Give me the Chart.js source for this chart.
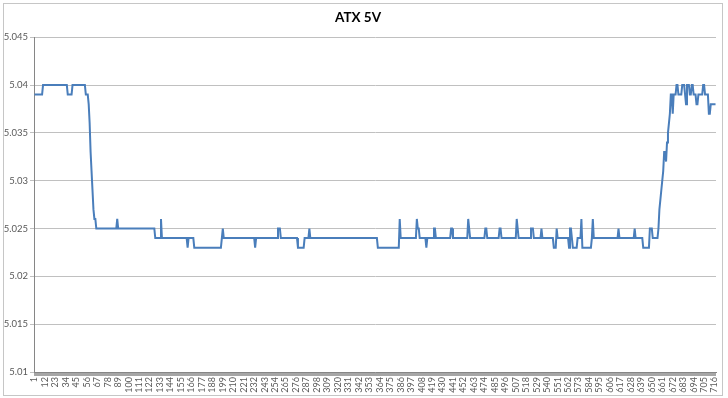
<!DOCTYPE html>
<html>
<head>
<meta charset="utf-8">
<title>ATX 5V</title>
<script src="https://cdn.jsdelivr.net/npm/chart.js@4.4.1/dist/chart.umd.min.js"></script>
<style>
  html, body { margin: 0; padding: 0; background: #fff; }
  #wrap { position: relative; width: 728px; height: 398px; }
</style>
</head>
<body>
<div id="wrap"><canvas id="chart" width="728" height="398"></canvas></div>
<script>
// --- DATA ---
const chartTitle = 'ATX 5V';

// one reading per sample (volts)
const voltage = [
  5.039,5.039,5.039,5.039,5.039,5.039,5.039,5.039,5.039,5.04,   // 1
  5.04,5.04,5.04,5.04,5.04,5.04,5.04,5.04,5.04,5.04,            // 11
  5.04,5.04,5.04,5.04,5.04,5.04,5.04,5.04,5.04,5.04,            // 21
  5.04,5.04,5.04,5.04,5.04,5.039,5.039,5.039,5.039,5.039,       // 31
  5.04,5.04,5.04,5.04,5.04,5.04,5.04,5.04,5.04,5.04,            // 41
  5.04,5.04,5.04,5.04,5.039,5.039,5.039,5.038,5.036,5.033,      // 51
  5.031,5.029,5.027,5.026,5.026,5.025,5.025,5.025,5.025,5.025,  // 61
  5.025,5.025,5.025,5.025,5.025,5.025,5.025,5.025,5.025,5.025,  // 71
  5.025,5.025,5.025,5.025,5.025,5.025,5.025,5.026,5.025,5.025,  // 81
  5.025,5.025,5.025,5.025,5.025,5.025,5.025,5.025,5.025,5.025,  // 91
  5.025,5.025,5.025,5.025,5.025,5.025,5.025,5.025,5.025,5.025,  // 101
  5.025,5.025,5.025,5.025,5.025,5.025,5.025,5.025,5.025,5.025,  // 111
  5.025,5.025,5.025,5.025,5.025,5.025,5.025,5.024,5.024,5.024,  // 121
  5.024,5.024,5.024,5.026,5.024,5.024,5.024,5.024,5.024,5.024,  // 131
  5.024,5.024,5.024,5.024,5.024,5.024,5.024,5.024,5.024,5.024,  // 141
  5.024,5.024,5.024,5.024,5.024,5.024,5.024,5.024,5.024,5.024,  // 151
  5.024,5.023,5.024,5.024,5.024,5.024,5.024,5.024,5.023,5.023,  // 161
  5.023,5.023,5.023,5.023,5.023,5.023,5.023,5.023,5.023,5.023,  // 171
  5.023,5.023,5.023,5.023,5.023,5.023,5.023,5.023,5.023,5.023,  // 181
  5.023,5.023,5.023,5.023,5.023,5.023,5.023,5.024,5.025,5.024,  // 191
  5.024,5.024,5.024,5.024,5.024,5.024,5.024,5.024,5.024,5.024,  // 201
  5.024,5.024,5.024,5.024,5.024,5.024,5.024,5.024,5.024,5.024,  // 211
  5.024,5.024,5.024,5.024,5.024,5.024,5.024,5.024,5.024,5.024,  // 221
  5.024,5.024,5.023,5.024,5.024,5.024,5.024,5.024,5.024,5.024,  // 231
  5.024,5.024,5.024,5.024,5.024,5.024,5.024,5.024,5.024,5.024,  // 241
  5.024,5.024,5.024,5.024,5.024,5.024,5.025,5.025,5.025,5.024,  // 251
  5.024,5.024,5.024,5.024,5.024,5.024,5.024,5.024,5.024,5.024,  // 261
  5.024,5.024,5.024,5.024,5.024,5.024,5.024,5.023,5.023,5.023,  // 271
  5.023,5.023,5.023,5.023,5.024,5.024,5.024,5.024,5.024,5.025,  // 281
  5.024,5.024,5.024,5.024,5.024,5.024,5.024,5.024,5.024,5.024,  // 291
  5.024,5.024,5.024,5.024,5.024,5.024,5.024,5.024,5.024,5.024,  // 301
  5.024,5.024,5.024,5.024,5.024,5.024,5.024,5.024,5.024,5.024,  // 311
  5.024,5.024,5.024,5.024,5.024,5.024,5.024,5.024,5.024,5.024,  // 321
  5.024,5.024,5.024,5.024,5.024,5.024,5.024,5.024,5.024,5.024,  // 331
  5.024,5.024,5.024,5.024,5.024,5.024,5.024,5.024,5.024,5.024,  // 341
  5.024,5.024,5.024,5.024,5.024,5.024,5.024,5.024,5.024,5.024,  // 351
  5.024,5.023,5.023,5.023,5.023,5.023,5.023,5.023,5.023,5.023,  // 361
  5.023,5.023,5.023,5.023,5.023,5.023,5.023,5.023,5.023,5.023,  // 371
  5.023,5.023,5.023,5.023,5.026,5.024,5.024,5.024,5.024,5.024,  // 381
  5.024,5.024,5.024,5.024,5.024,5.024,5.024,5.024,5.024,5.024,  // 391
  5.024,5.024,5.026,5.025,5.025,5.024,5.024,5.024,5.024,5.024,  // 401
  5.024,5.024,5.023,5.024,5.024,5.024,5.024,5.024,5.024,5.024,  // 411
  5.025,5.025,5.024,5.024,5.024,5.024,5.024,5.024,5.024,5.024,  // 421
  5.024,5.024,5.024,5.024,5.024,5.024,5.024,5.024,5.025,5.025,  // 431
  5.024,5.024,5.024,5.024,5.024,5.024,5.024,5.024,5.024,5.024,  // 441
  5.024,5.024,5.024,5.024,5.024,5.024,5.026,5.025,5.024,5.024,  // 451
  5.024,5.024,5.024,5.024,5.024,5.024,5.024,5.024,5.024,5.024,  // 461
  5.024,5.024,5.024,5.024,5.025,5.025,5.024,5.024,5.024,5.024,  // 471
  5.024,5.024,5.024,5.024,5.024,5.024,5.024,5.024,5.024,5.025,  // 481
  5.025,5.024,5.024,5.024,5.024,5.024,5.024,5.024,5.024,5.024,  // 491
  5.024,5.024,5.024,5.024,5.024,5.024,5.024,5.026,5.025,5.024,  // 501
  5.024,5.024,5.024,5.024,5.024,5.024,5.024,5.024,5.024,5.024,  // 511
  5.024,5.024,5.025,5.025,5.025,5.024,5.024,5.024,5.024,5.024,  // 521
  5.024,5.024,5.024,5.025,5.024,5.024,5.024,5.024,5.024,5.024,  // 531
  5.024,5.024,5.024,5.024,5.024,5.024,5.023,5.023,5.023,5.025,  // 541
  5.024,5.024,5.024,5.024,5.024,5.024,5.024,5.024,5.024,5.024,  // 551
  5.024,5.024,5.023,5.025,5.025,5.024,5.023,5.023,5.023,5.023,  // 561
  5.023,5.024,5.024,5.024,5.024,5.026,5.023,5.023,5.023,5.023,  // 571
  5.023,5.023,5.023,5.023,5.023,5.023,5.024,5.026,5.024,5.024,  // 581
  5.024,5.024,5.024,5.024,5.024,5.024,5.024,5.024,5.024,5.024,  // 591
  5.024,5.024,5.024,5.024,5.024,5.024,5.024,5.024,5.024,5.024,  // 601
  5.024,5.024,5.024,5.024,5.025,5.024,5.024,5.024,5.024,5.024,  // 611
  5.024,5.024,5.024,5.024,5.024,5.024,5.024,5.024,5.024,5.024,  // 621
  5.024,5.025,5.024,5.024,5.024,5.024,5.024,5.024,5.024,5.024,  // 631
  5.023,5.023,5.023,5.023,5.023,5.023,5.023,5.025,5.025,5.025,  // 641
  5.024,5.024,5.024,5.024,5.024,5.024,5.025,5.027,5.028,5.029,  // 651
  5.030,5.031,5.033,5.033,5.032,5.034,5.035,5.036,5.037,5.039,  // 661
  5.039,5.037,5.039,5.039,5.039,5.04,5.04,5.039,5.039,5.039,    // 671
  5.039,5.04,5.04,5.04,5.039,5.038,5.04,5.04,5.04,5.039,        // 681
  5.039,5.04,5.04,5.039,5.039,5.039,5.038,5.038,5.039,5.039,    // 691
  5.039,5.039,5.039,5.04,5.04,5.039,5.039,5.039,5.039,5.037,    // 701
  5.037,5.038,5.038,5.038,5.038,5.038,5.038                     // 711
];

// sample numbers that get a label on the x axis
const tickLabels = [
  1, 12, 23, 34, 45, 56, 67, 78, 89, 100, 111, 122, 133, 144, 155, 166, 177,
  188, 199, 210, 221, 232, 243, 254, 265, 276, 287, 298, 309, 320, 331, 342,
  353, 364, 375, 386, 397, 408, 419, 430, 441, 452, 463, 474, 485, 496, 507,
  518, 529, 540, 551, 562, 573, 584, 595, 606, 617, 628, 639, 650, 661, 672,
  683, 694, 705, 716
];

const yMin = 5.01;
const yMax = 5.045;
const yStep = 0.005;

// categories are just the sample numbers 1..N
const sampleNumbers = voltage.map((_, i) => String(i + 1));
const shownLabels = new Set(tickLabels.map(String));

const FONT = 'Lato, "Open Sans", "Liberation Sans", sans-serif';

// --- FRAME (chart border like the spreadsheet chart) ---
const frame = {
  id: 'frame',
  beforeDraw(chart) {
    const c = chart.ctx;
    c.save();
    c.fillStyle = '#ffffff';
    c.fillRect(0, 0, chart.width, chart.height);
    c.strokeStyle = '#c6c6c6';
    c.lineWidth = 1;
    c.strokeRect(3.5, 3.5, 719, 392);
    c.restore();
  }
};

// --- CHART ---
new Chart(document.getElementById('chart'), {
  type: 'line',
  data: {
    labels: sampleNumbers,
    datasets: [{
      label: chartTitle,
      data: voltage,
      borderColor: '#4a7ebb',
      borderWidth: 2,
      pointRadius: 0,
      tension: 0,
      fill: false
    }]
  },
  options: {
    responsive: false,
    animation: false,
    layout: { padding: { left: 0, right: 12, top: 0, bottom: 0 } },
    plugins: {
      legend: { display: false },
      tooltip: { enabled: false },
      title: {
        display: true,
        text: chartTitle,
        color: '#000',
        font: { family: FONT, size: 13.5, weight: 'bold' },
        padding: { top: 10, bottom: 11 }
      }
    },
    scales: {
      x: {
        type: 'category',
        offset: true,
        grid: { display: true, drawOnChartArea: false, tickLength: 4, color: '#a6a6a6' },
        border: { color: '#868686' },
        ticks: {
          autoSkip: false,
          maxRotation: 90,
          minRotation: 90,
          padding: 1,
          color: '#595959',
          font: { family: FONT, size: 9 },
          callback(value) {
            const l = this.getLabelForValue(value);
            return shownLabels.has(l) ? l : '';
          }
        },
        afterFit(scale) { scale.height = 26; }
      },
      y: {
        min: yMin,
        max: yMax,
        grid: { color: '#c0c0c0', tickLength: 4 },
        border: { color: '#868686' },
        ticks: {
          stepSize: yStep,
          padding: 2,
          color: '#595959',
          font: { family: FONT, size: 9.5 },
          callback: v => String(+v.toFixed(3))
        },
        afterFit(scale) { scale.width = 34; }
      }
    }
  },
  plugins: [frame]
});
</script>
</body>
</html>
